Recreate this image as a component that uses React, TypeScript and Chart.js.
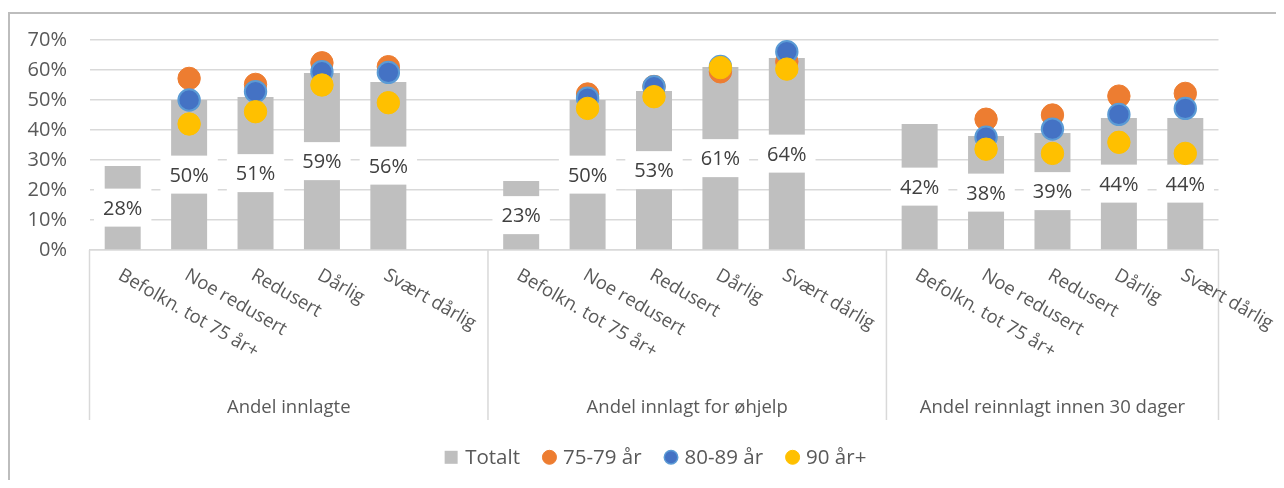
import { useEffect, useRef } from "react";
import { Chart, registerables } from "chart.js";

Chart.register(...registerables);

const FONT = "'Open Sans', sans-serif";

const groups = ["Andel innlagte", "Andel innlagt for øhjelp", "Andel reinnlagt innen 30 dager"];
const categories = ["Befolkn. tot 75 år+", "Noe redusert", "Redusert", "Dårlig", "Svært dårlig"];

// Totalt, one value per category in each group
const totaltInnlagte = [0.28, 0.5, 0.51, 0.59, 0.56];
const totaltOhjelp = [0.23, 0.5, 0.53, 0.61, 0.64];
const totaltReinnlagt = [0.42, 0.38, 0.39, 0.44, 0.44];

// 75-79 år
const age75Innlagte = [null, 0.572, 0.552, 0.624, 0.611];
const age75Ohjelp = [null, 0.52, 0.545, 0.594, 0.628];
const age75Reinnlagt = [null, 0.436, 0.45, 0.513, 0.522];

// 80-89 år
const age80Innlagte = [null, 0.5, 0.528, 0.594, 0.592];
const age80Ohjelp = [null, 0.506, 0.544, 0.612, 0.661];
const age80Reinnlagt = [null, 0.376, 0.403, 0.452, 0.472];

// 90 år+
const age90Innlagte = [null, 0.42, 0.461, 0.55, 0.491];
const age90Ohjelp = [null, 0.472, 0.511, 0.608, 0.603];
const age90Reinnlagt = [null, 0.336, 0.322, 0.359, 0.322];

const seriesNames = ["Totalt", "75-79 år", "80-89 år", "90 år+"];

// One slot per category, plus an empty slot between groups
type Slot = { g: number; c: number } | null;
const slots: Slot[] = [];
const groupStart: number[] = [];
groups.forEach((_, gi) => {
  groupStart.push(slots.length);
  categories.forEach((_, ci) => slots.push({ g: gi, c: ci }));
  if (gi < groups.length - 1) slots.push(null);
});
groupStart.push(slots.length);
const slotLabels = slots.map((s) => (s ? categories[s.c] : ""));

const pick = (rows: (number | null)[][]) => slots.map((s) => (s ? rows[s.g][s.c] : null));

const totalt = pick([totaltInnlagte, totaltOhjelp, totaltReinnlagt]);
const age75 = pick([age75Innlagte, age75Ohjelp, age75Reinnlagt]);
const age80 = pick([age80Innlagte, age80Ohjelp, age80Reinnlagt]);
const age90 = pick([age90Innlagte, age90Ohjelp, age90Reinnlagt]);

const GREY = "#bfbfbf";
const ORANGE = "#ED7D31";
const BLUE = "#4472C4";
const BLUE_RING = "#5B9BD5";
const YELLOW = "#FFC000";
const GRID = "#d9d9d9";
const TEXT = "#595959";

const W = 1274;
const H = 470;
const PLOT_LEFT = 79.5;
const PLOT_RIGHT = 1208.5;
const PLOT_TOP = 26;
const PLOT_BOTTOM = 236;

const legendItems = [
  { label: seriesNames[0], shape: "rect", fill: GREY, stroke: GREY, lw: 0 },
  { label: seriesNames[1], shape: "circle", fill: ORANGE, stroke: ORANGE, lw: 1 },
  { label: seriesNames[2], shape: "circle", fill: BLUE, stroke: BLUE_RING, lw: 1.5 },
  { label: seriesNames[3], shape: "circle", fill: YELLOW, stroke: YELLOW, lw: 1 },
];

const decorations = {
  id: "decorations",
  afterDatasetDraw(chart: any, args: any) {
    if (args.index !== 0) return;
    const ctx = chart.ctx as CanvasRenderingContext2D;
    const values = chart.data.datasets[0].data as (number | null)[];
    ctx.save();
    ctx.font = `20px ${FONT}`;
    ctx.textAlign = "center";
    ctx.textBaseline = "middle";
    args.meta.data.forEach((bar: any, i: number) => {
      const v = values[i];
      if (v == null) return;
      const { x, y, base } = bar.getProps(["x", "y", "base"], true);
      const cy = (y + base) / 2;
      const text = `${Math.round(v * 100)}%`;
      const w = ctx.measureText(text).width + 18;
      ctx.fillStyle = "#ffffff";
      ctx.fillRect(x - w / 2, cy - 19, w, 38);
      ctx.fillStyle = "#404040";
      ctx.fillText(text, x, cy + 1.4);
    });
    ctx.restore();
  },
  afterDraw(chart: any) {
    const ctx = chart.ctx as CanvasRenderingContext2D;
    const xs = chart.scales.x;
    const { bottom, left, right } = chart.chartArea;
    const slotW = (right - left) / slotLabels.length;
    const edge = (s: number) => xs.getPixelForValue(0) - slotW / 2 + s * slotW;

    ctx.save();
    // group dividers below the category axis
    ctx.strokeStyle = GRID;
    ctx.lineWidth = 1.5;
    groupStart.forEach((s) => {
      const x = edge(s);
      ctx.beginPath();
      ctx.moveTo(x, bottom);
      ctx.lineTo(x, bottom + 170);
      ctx.stroke();
    });

    // rotated category labels
    const theta = Math.PI / 6;
    const catSize = 18.5;
    const capH = 0.714 * catSize;
    ctx.font = `${catSize}px ${FONT}`;
    ctx.fillStyle = TEXT;
    ctx.textAlign = "left";
    ctx.textBaseline = "alphabetic";
    slotLabels.forEach((label, i) => {
      if (!label) return;
      const cx = xs.getPixelForValue(i);
      const tlx = cx + 1;
      const tly = bottom + 17;
      ctx.save();
      ctx.translate(tlx - capH * Math.sin(theta), tly + capH * Math.cos(theta));
      ctx.rotate(theta);
      ctx.fillText(label, 0, 0);
      ctx.restore();
    });

    // group labels
    ctx.textAlign = "center";
    groups.forEach((g, gi) => {
      const cx = (edge(groupStart[gi]) + edge(groupStart[gi + 1])) / 2;
      ctx.fillText(g, cx, bottom + 162.7);
    });

    // legend
    ctx.font = `20.5px ${FONT}`;
    ctx.textAlign = "left";
    const markerW = 14;
    const gapText = 6.5;
    const gapItem = 22.5;
    const widths = legendItems.map((it) => markerW + gapText + ctx.measureText(it.label).width);
    const total = widths.reduce((a, b) => a + b, 0) + gapItem * (legendItems.length - 1);
    let x = (left + right) / 2 + 1.5 - total / 2;
    const my = 443.3;
    const baseY = 450;
    legendItems.forEach((it, i) => {
      if (it.shape === "rect") {
        ctx.fillStyle = it.fill;
        ctx.fillRect(x, my - 6.5, 13, 13);
      } else {
        ctx.beginPath();
        ctx.arc(x + markerW / 2, my, 7.5 - it.lw / 2, 0, Math.PI * 2);
        ctx.fillStyle = it.fill;
        ctx.fill();
        ctx.lineWidth = it.lw;
        ctx.strokeStyle = it.stroke;
        ctx.stroke();
      }
      ctx.fillStyle = TEXT;
      ctx.fillText(it.label, x + markerW + gapText, baseY);
      x += widths[i] + gapItem;
    });
    ctx.restore();
  },
};

const noScalePadding = (s: any) => {
  s.paddingTop = 0;
  s.paddingBottom = 0;
  s.paddingLeft = 0;
  s.paddingRight = 0;
};

export default function App() {
  const canvasRef = useRef<HTMLCanvasElement | null>(null);

  useEffect(() => {
    document.body.style.overflow = "hidden";
    const canvas = canvasRef.current;
    if (!canvas) return;
    const pointSet = (label: string, data: (number | null)[], fill: string, ring: string, radius: number, bw: number, order: number) => ({
      type: "line" as const,
      label,
      data,
      showLine: false,
      order,
      backgroundColor: fill,
      borderColor: ring,
      pointBackgroundColor: fill,
      pointBorderColor: ring,
      pointBorderWidth: bw,
      pointRadius: radius,
      pointHoverRadius: radius,
      pointStyle: "circle",
    });
    const chart = new Chart(canvas, {
      type: "bar",
      data: {
        labels: slotLabels,
        datasets: [
          {
            type: "bar",
            label: seriesNames[0],
            data: totalt,
            backgroundColor: GREY,
            barPercentage: 0.542,
            categoryPercentage: 1,
            order: 4,
          } as any,
          pointSet(seriesNames[1], age75, ORANGE, ORANGE, 11.2, 1, 3),
          pointSet(seriesNames[2], age80, BLUE, BLUE_RING, 10.7, 2, 2),
          pointSet(seriesNames[3], age90, YELLOW, YELLOW, 11.2, 1, 1),
        ],
      },
      options: {
        responsive: false,
        animation: false,
        events: [],
        layout: { padding: { top: PLOT_TOP, right: W - PLOT_RIGHT, bottom: 0, left: 0 } },
        plugins: {
          legend: { display: false },
          tooltip: { enabled: false },
        },
        scales: {
          x: {
            grid: { display: false },
            border: { display: true, color: GRID, width: 1.5 },
            ticks: { display: false },
            afterFit: (s: any) => {
              s.height = H - PLOT_BOTTOM;
              noScalePadding(s);
            },
          },
          y: {
            min: 0,
            max: 0.7,
            ticks: {
              stepSize: 0.1,
              padding: 22.5,
              color: TEXT,
              font: { family: FONT, size: 20 },
              callback: (v: any) => `${Math.round(Number(v) * 100)}%`,
            },
            grid: { color: GRID, lineWidth: 1.5, drawTicks: false },
            border: { display: false },
            afterFit: (s: any) => {
              s.width = PLOT_LEFT;
              noScalePadding(s);
            },
          },
        },
      } as any,
      plugins: [decorations],
    });
    return () => chart.destroy();
  }, []);

  return (
    <div
      style={{
        position: "relative",
        top: 4,
        width: 1276,
        height: 472,
        boxSizing: "border-box",
        borderLeft: "2px solid #bdbdbd",
        borderTop: "2px solid #bdbdbd",
        background: "#ffffff",
      }}
    >
      <canvas ref={canvasRef} width={W} height={H} style={{ display: "block", width: W, height: H }} />
    </div>
  );
}
